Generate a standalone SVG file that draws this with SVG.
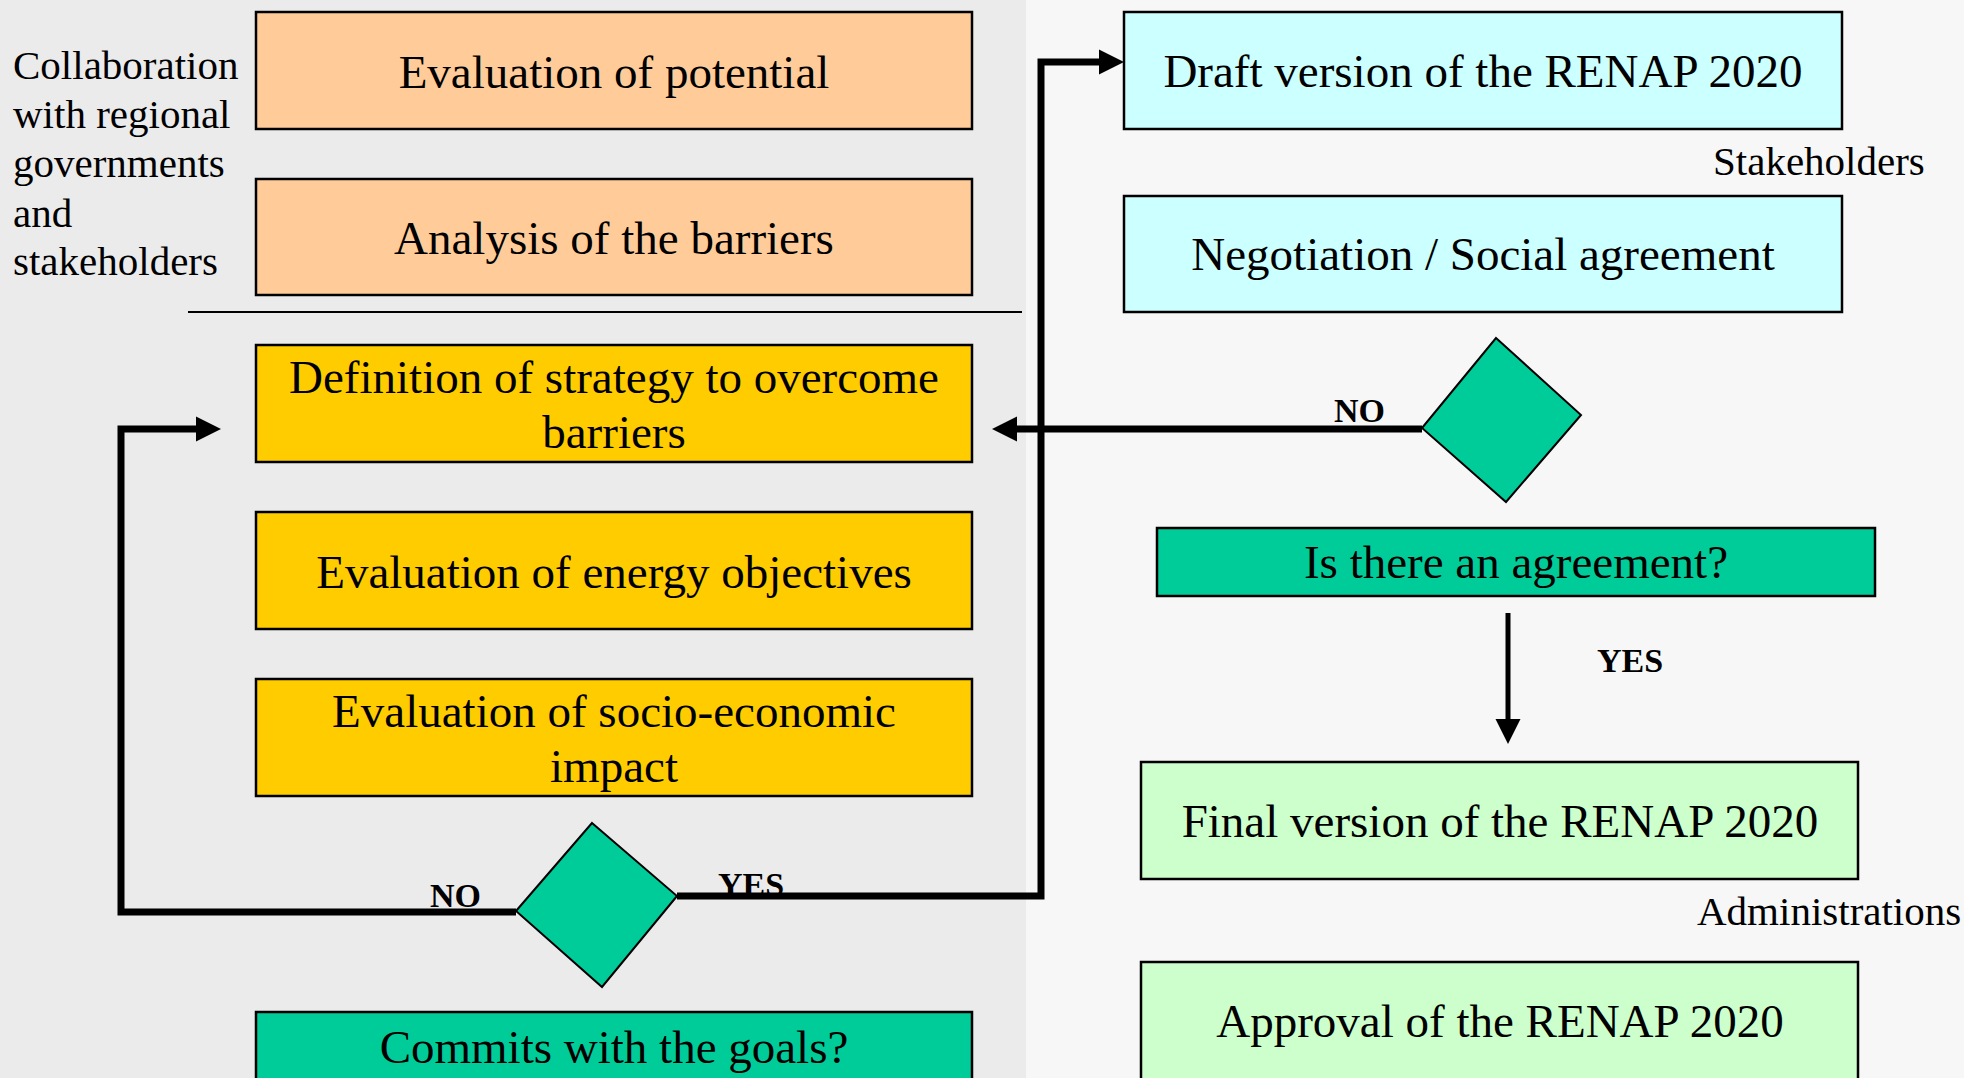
<svg xmlns="http://www.w3.org/2000/svg" width="1964" height="1078" viewBox="0 0 1964 1078">
  <defs>
    <style>
      .box { stroke: #000; stroke-width: 2.5; }
      .orange { fill: #ffcc99; }
      .yellow { fill: #ffcc00; }
      .cyan { fill: #ccffff; }
      .teal { fill: #00cc99; }
      .green { fill: #ccffcc; }
      .diamond { fill: #00cc99; stroke: #000; stroke-width: 2; }
      .t { font-family: "Liberation Serif", "Times New Roman", serif; font-size: 47px; fill: #000; text-anchor: middle; }
      .side { font-family: "Liberation Serif", "Times New Roman", serif; font-size: 41px; fill: #000; }
      .lbl { font-family: "Liberation Serif", "Times New Roman", serif; font-size: 34px; font-weight: bold; fill: #000; }
      .flow { fill: none; stroke: #000; stroke-width: 7; stroke-linejoin: miter; }
      .thin { fill: none; stroke: #000; stroke-width: 5; }
    </style>
    <marker id="head" markerUnits="userSpaceOnUse" markerWidth="26" markerHeight="26" refX="0" refY="12.5" orient="auto" overflow="visible">
      <path d="M0,0 L25,12.5 L0,25 Z" fill="#000"/>
    </marker>
  </defs>

  <!-- two panels -->
  <rect x="0" y="0" width="1026" height="1078" fill="#ebebeb"/>
  <rect x="1026" y="0" width="938" height="1078" fill="#f7f7f7"/>
  <line x1="188" y1="312" x2="1022" y2="312" stroke="#000" stroke-width="2"/>

  <!-- side notes -->
  <g id="note-collaboration">
    <text class="side" x="13" y="79">Collaboration</text>
    <text class="side" x="13" y="128">with regional</text>
    <text class="side" x="13" y="177">governments</text>
    <text class="side" x="13" y="227">and</text>
    <text class="side" x="13" y="275">stakeholders</text>
  </g>
  <g id="note-stakeholders"><text class="side" x="1713" y="175">Stakeholders</text></g>
  <g id="note-administrations"><text class="side" x="1697" y="925">Administrations</text></g>

  <!-- left column -->
  <g id="potential">
    <rect class="box orange" x="256" y="12" width="716" height="117"/>
    <text class="t" x="614" y="88">Evaluation of potential</text>
  </g>
  <g id="barriers">
    <rect class="box orange" x="256" y="179" width="716" height="116"/>
    <text class="t" x="614" y="254">Analysis of the barriers</text>
  </g>
  <g id="strategy">
    <rect class="box yellow" x="256" y="345" width="716" height="117"/>
    <text class="t" x="614" y="393">Definition of strategy to overcome</text>
    <text class="t" x="614" y="448">barriers</text>
  </g>
  <g id="objectives">
    <rect class="box yellow" x="256" y="512" width="716" height="117"/>
    <text class="t" x="614" y="588">Evaluation of energy objectives</text>
  </g>
  <g id="impact">
    <rect class="box yellow" x="256" y="679" width="716" height="117"/>
    <text class="t" x="614" y="727">Evaluation of socio-economic</text>
    <text class="t" x="614" y="782">impact</text>
  </g>
  <g id="goals-decision">
    <polygon class="diamond" points="592,823 677,896 602,987 516,911"/>
  </g>
  <g id="goals">
    <rect class="box teal" x="256" y="1012" width="716" height="100"/>
    <text class="t" x="614" y="1063">Commits with the goals?</text>
  </g>

  <!-- right column -->
  <g id="draft">
    <rect class="box cyan" x="1124" y="12" width="718" height="117"/>
    <text class="t" x="1483" y="87">Draft version of the RENAP 2020</text>
  </g>
  <g id="negotiation">
    <rect class="box cyan" x="1124" y="196" width="718" height="116"/>
    <text class="t" x="1483" y="270">Negotiation / Social agreement</text>
  </g>
  <g id="agreement-decision">
    <polygon class="diamond" points="1496,338 1581,415 1506,502 1422,428"/>
  </g>
  <g id="agreement">
    <rect class="box teal" x="1157" y="528" width="718" height="68"/>
    <text class="t" x="1516" y="578">Is there an agreement?</text>
  </g>
  <g id="final">
    <rect class="box green" x="1141" y="762" width="717" height="117"/>
    <text class="t" x="1500" y="837">Final version of the RENAP 2020</text>
  </g>
  <g id="approval">
    <rect class="box green" x="1141" y="962" width="717" height="150"/>
    <text class="t" x="1500" y="1037">Approval of the RENAP 2020</text>
  </g>

  <!-- branch labels -->
  <g id="labels">
    <text class="lbl" x="430" y="907">NO</text>
    <text class="lbl" x="718" y="896">YES</text>
    <text class="lbl" x="1334" y="422">NO</text>
    <text class="lbl" x="1597" y="672">YES</text>
  </g>

  <!-- connectors -->
  <g id="connectors">
    <polyline class="flow" points="516,912 121,912 121,429 196,429" marker-end="url(#head)"/>
    <polyline class="flow" points="677,896 1041,896 1041,62 1099,62" marker-end="url(#head)"/>
    <polyline class="flow" points="1422,429 1017,429" marker-end="url(#head)"/>
    <polyline class="thin" points="1508,613 1508,719" marker-end="url(#head)"/>
  </g>
</svg>
